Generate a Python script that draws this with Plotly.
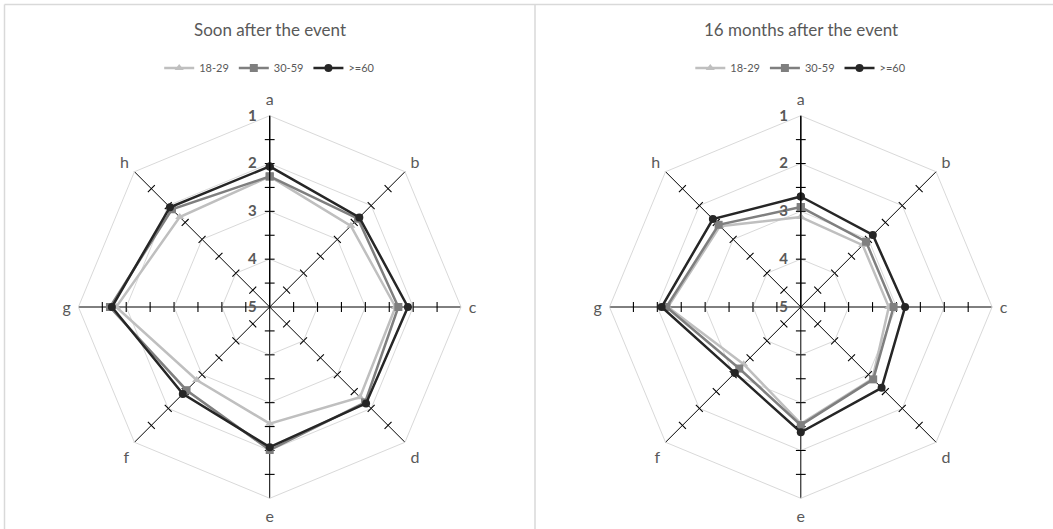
import plotly.graph_objects as go

# Survey dimensions shown around each radar
categories = ["a", "b", "c", "d", "e", "f", "g", "h"]
age_groups = ["18-29", "30-59", ">=60"]

# Mean scores (1 = outer ring, 5 = centre)
soon_18_29 = [2.27, 2.60, 2.37, 2.33, 2.56, 2.84, 1.79, 2.34]
soon_30_59 = [2.27, 2.39, 2.31, 2.18, 2.01, 2.54, 1.66, 2.11]
soon_60 = [2.06, 2.35, 2.11, 2.15, 2.07, 2.43, 1.70, 2.05]

later_18_29 = [3.12, 3.17, 3.16, 2.88, 2.56, 3.31, 2.22, 2.61]
later_30_59 = [2.91, 3.07, 3.06, 2.86, 2.53, 3.18, 2.19, 2.57]
later_60 = [2.69, 2.87, 2.82, 2.61, 2.38, 3.05, 2.09, 2.40]

panel_titles = ["Soon after the event", "16 months after the event"]
radial_ticks = [1, 2, 3, 4, 5]
spoke_ticks = [1, 1.5, 2, 2.5, 3, 3.5, 4, 4.5]

series_style = {
    "18-29": dict(color="#BFBFBF", symbol="triangle-up"),
    "30-59": dict(color="#7F7F7F", symbol="square"),
    ">=60": dict(color="#262626", symbol="circle"),
}

FONT = "Lato"
TEXT = "#595959"
W, H = 1053, 529

fig = go.Figure()

panels = [
    dict(polar="polar", legend="legend", cx=269.7, series=[soon_18_29, soon_30_59, soon_60]),
    dict(polar="polar2", legend="legend2", cx=800.8, series=[later_18_29, later_30_59, later_60]),
]
R = 191.3
CY = 307.0

for p in panels:
    # short tick marks across every spoke
    th, rr, ang = [], [], []
    for i, c in enumerate(categories):
        for t in spoke_ticks:
            th.append(c)
            rr.append(t)
            ang.append(i * 45)
    fig.add_trace(go.Scatterpolar(
        r=rr, theta=th, mode="markers", subplot=p["polar"], showlegend=False,
        hoverinfo="skip", cliponaxis=False,
        marker=dict(symbol="line-ew", size=7, angle=ang,
                    line=dict(color="#000000", width=1.1)),
    ))
    for name, vals in zip(age_groups, p["series"]):
        st = series_style[name]
        fig.add_trace(go.Scatterpolar(
            r=vals + vals[:1], theta=categories + categories[:1],
            mode="lines+markers", name=name, subplot=p["polar"], legend=p["legend"],
            line=dict(color=st["color"], width=2.5),
            marker=dict(symbol=st["symbol"], size=8, color=st["color"]),
            cliponaxis=False,
        ))

def polar_layout(cx):
    return dict(
        domain=dict(x=[(cx - R) / W, (cx + R) / W],
                    y=[(H - (CY + R)) / H, (H - (CY - R)) / H]),
        gridshape="linear",
        bgcolor="white",
        radialaxis=dict(
            range=[5, 1], tickvals=radial_ticks, ticktext=[str(v) for v in radial_ticks],
            angle=90, tickangle=90, side="counterclockwise",
            showline=True, linecolor="#000000", linewidth=1.3,
            gridcolor="#D9D9D9", gridwidth=1,
            ticks="outside", ticklen=7, tickcolor="rgba(0,0,0,0)",
            tickfont=dict(family=FONT, size=15, color=TEXT, weight="bold"),
        ),
        angularaxis=dict(
            type="category", categoryarray=categories, direction="clockwise", rotation=90,
            showline=True, linecolor="#D9D9D9", linewidth=1,
            gridcolor="#000000", gridwidth=1.3,
            ticks="outside", ticklen=4, tickcolor="rgba(0,0,0,0)",
            tickfont=dict(family=FONT, size=16, color=TEXT),
        ),
    )

legend_common = dict(
    orientation="h", yanchor="middle", xanchor="center", y=1 - 68 / H,
    font=dict(family=FONT, size=11, color=TEXT), bgcolor="rgba(0,0,0,0)",
    itemwidth=30, tracegroupgap=0,
)

fig.update_layout(
    width=W, height=H, margin=dict(l=0, r=0, t=0, b=0),
    paper_bgcolor="white", plot_bgcolor="white",
    font=dict(family=FONT, color=TEXT),
    polar=polar_layout(panels[0]["cx"]),
    polar2=polar_layout(panels[1]["cx"]),
    legend=dict(x=panels[0]["cx"] / W, **legend_common),
    legend2=dict(x=panels[1]["cx"] / W, **legend_common),
    annotations=[
        dict(text=t, x=p["cx"] / W, y=1 - 30 / H, xref="paper", yref="paper",
             showarrow=False, xanchor="center", yanchor="middle",
             font=dict(family=FONT, size=17, color=TEXT))
        for t, p in zip(panel_titles, panels)
    ],
    shapes=[
        dict(type="line", xref="paper", yref="paper", x0=4.5 / W, x1=1, y0=1 - 4.5 / H, y1=1 - 4.5 / H,
             line=dict(color="#D9D9D9", width=1.5)),
        dict(type="line", xref="paper", yref="paper", x0=4.5 / W, x1=4.5 / W, y0=0, y1=1 - 4.5 / H,
             line=dict(color="#D9D9D9", width=1.5)),
        dict(type="line", xref="paper", yref="paper", x0=535 / W, x1=535 / W, y0=0, y1=1 - 4.5 / H,
             line=dict(color="#D9D9D9", width=1.5)),
    ],
)

fig.write_html("out.html")
